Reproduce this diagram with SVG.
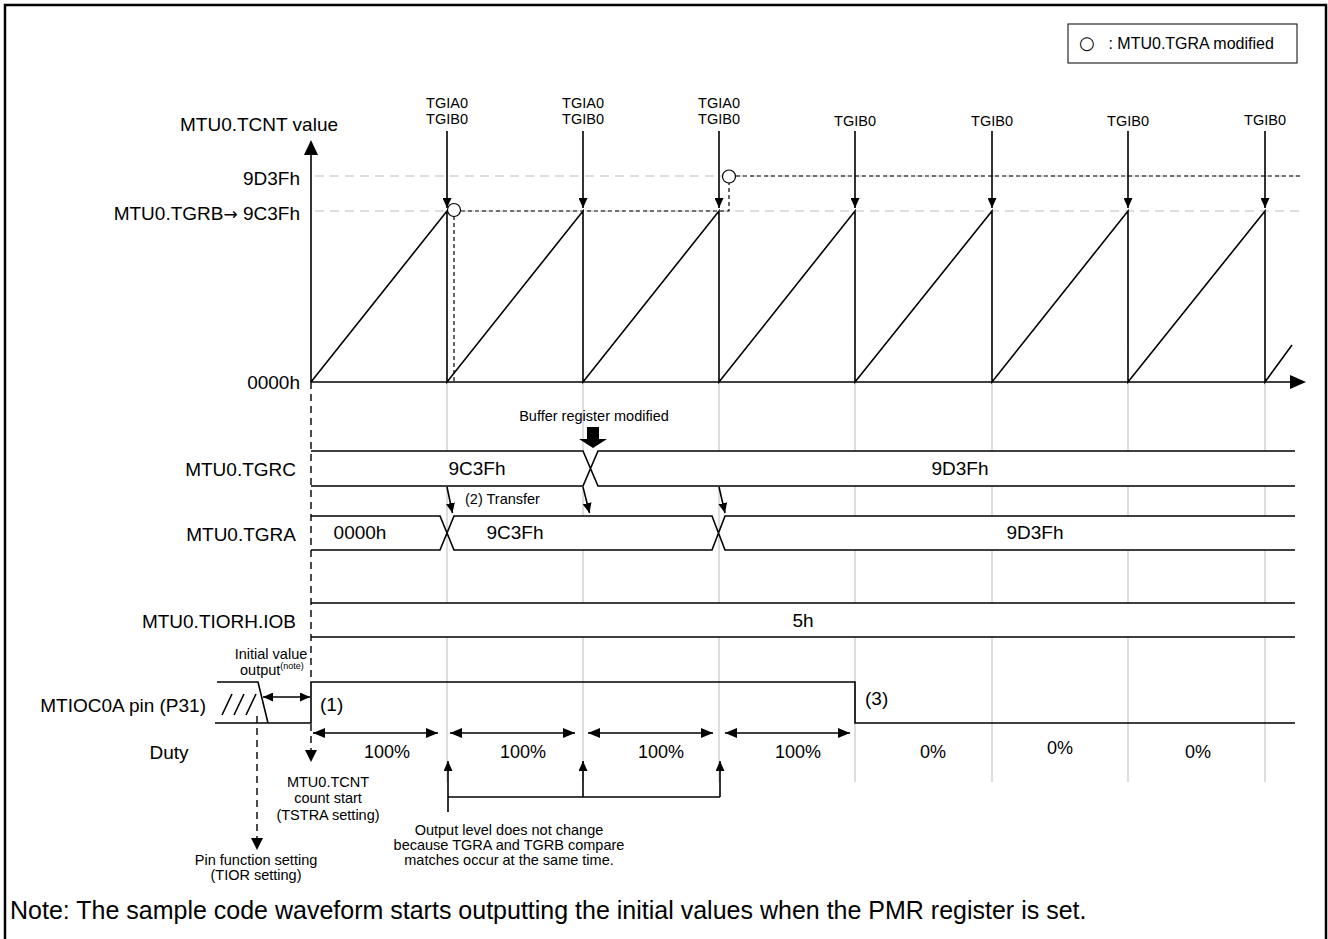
<svg xmlns="http://www.w3.org/2000/svg" width="1328" height="939" viewBox="0 0 1328 939">
<defs>
<marker id="ah" viewBox="0 0 12 10" refX="12" refY="5" markerWidth="12" markerHeight="10" markerUnits="userSpaceOnUse" orient="auto-start-reverse"><path d="M0,0 L12,5 L0,10 z" fill="#000"/></marker>
<marker id="ahs" viewBox="0 0 10 9" refX="10" refY="4.5" markerWidth="10" markerHeight="9" markerUnits="userSpaceOnUse" orient="auto-start-reverse"><path d="M0,0 L10,4.5 L0,9 z" fill="#000"/></marker>
</defs>
<style>
text{font-family:"Liberation Sans",Arial,"DejaVu Sans",sans-serif;fill:#000}
.m{font-size:19px}
.p{font-size:18px}
.s{font-size:14.5px}
.r{text-anchor:end}
.c{text-anchor:middle}
.ln{stroke:#000;stroke-width:1.6;fill:none}
.gr{stroke:#c8c8c8;stroke-width:1.2;fill:none}
.gd{stroke:#bdbdbd;stroke-width:1.2;fill:none;stroke-dasharray:9,6}
.bd{stroke:#000;stroke-width:1.2;fill:none;stroke-dasharray:4,3}
.ld{stroke:#000;stroke-width:1.4;fill:none;stroke-dasharray:7,5}
.ar{stroke:#000;stroke-width:1.6;fill:none}
</style>
<rect width="1328" height="939" fill="#fff"/>
<path d="M5,939 V5 H1326 V939" fill="none" stroke="#000" stroke-width="2.5"/>

<g id="legend">
<rect x="1068" y="24" width="229" height="39" fill="#fff" stroke="#000" stroke-width="1"/>
<text x="1079" y="49" font-size="16"><tspan font-family="DejaVu Sans" font-size="18">○</tspan><tspan x="1104"> : MTU0.TGRA modified</tspan></text>
</g>

<g id="grid">
<path class="gr" d="M447,382 V782 M583,382 V782 M719,382 V782 M855,382 V782 M992,382 V782 M1128,382 V782 M1265,382 V782"/>
<path class="gd" d="M315,176 H1300 M315,211 H1300"/>
</g>

<g id="axes">
<path class="ln" d="M311,382 V155" />
<path d="M304,155 L311,140 L318,155 z" fill="#000"/>
<path class="ln" d="M311,382 H1291" />
<path d="M1290,375 L1306,382 L1290,389 z" fill="#000"/>
<text class="m" x="180" y="131">MTU0.TCNT value</text>
<text class="m r" x="300" y="185">9D3Fh</text>
<text class="m r" x="300" y="220">MTU0.TGRB<tspan font-family="DejaVu Sans" font-size="17">→</tspan> 9C3Fh</text>
<text class="m r" x="300" y="389">0000h</text>
</g>

<g id="tcnt">
<path class="ln" d="M311,382 L447,211 V382 L583,211 V382 L719,211 V382 L855,211 V382 L992,211 V382 L1128,211 V382 L1265,211 V382 L1292,345"/>
<path class="bd" d="M461,211 H729 V183 M736,176 H1300 M454,216 V382"/>
<circle cx="454" cy="210" r="6.5" fill="#fff" stroke="#000" stroke-width="1.2"/>
<circle cx="729" cy="176.5" r="6.5" fill="#fff" stroke="#000" stroke-width="1.2"/>
</g>

<g id="interrupts">
<path class="ar" d="M447,131 V208" marker-end="url(#ahs)"/>
<path class="ar" d="M583,131 V208" marker-end="url(#ahs)"/>
<path class="ar" d="M719,131 V208" marker-end="url(#ahs)"/>
<path class="ar" d="M855,131 V208" marker-end="url(#ahs)"/>
<path class="ar" d="M992,131 V208" marker-end="url(#ahs)"/>
<path class="ar" d="M1128,131 V208" marker-end="url(#ahs)"/>
<path class="ar" d="M1265,131 V208" marker-end="url(#ahs)"/>
<text class="s c" x="447" y="108">TGIA0</text><text class="s c" x="447" y="124">TGIB0</text>
<text class="s c" x="583" y="108">TGIA0</text><text class="s c" x="583" y="124">TGIB0</text>
<text class="s c" x="719" y="108">TGIA0</text><text class="s c" x="719" y="124">TGIB0</text>
<text class="s c" x="855" y="126">TGIB0</text>
<text class="s c" x="992" y="126">TGIB0</text>
<text class="s c" x="1128" y="126">TGIB0</text>
<text class="s c" x="1265" y="125">TGIB0</text>
</g>

<g id="tgrc">
<polygon points="311,451 583,451 590.5,468.5 598,451 1295,451 1295,486 598,486 590.5,468.5 583,486 311,486" fill="#fff"/>
<path class="ln" d="M311,451 H583 L598,486 H1295 M311,486 H583 L598,451 H1295"/>
<text class="m r" x="296" y="476">MTU0.TGRC</text>
<text class="m c" x="477" y="475">9C3Fh</text>
<text class="m c" x="960" y="475">9D3Fh</text>
<text class="s c" x="594" y="421">Buffer register modified</text>
<path d="M587,427 H599 V439 H607 L593,448 L579,439 H587 z" fill="#000"/>
</g>

<g id="tgra">
<polygon points="311,516 440,516 447,533 454,516 712,516 718.5,533 725,516 1295,516 1295,550 725,550 718.5,533 712,550 454,550 447,533 440,550 311,550" fill="#fff"/>
<path class="ln" d="M311,516 H440 L454,550 H712 L725,516 H1295 M311,550 H440 L454,516 H712 L725,550 H1295"/>
<text class="m r" x="296" y="541">MTU0.TGRA</text>
<text class="m c" x="360" y="539">0000h</text>
<text class="m c" x="515" y="539">9C3Fh</text>
<text class="m c" x="1035" y="539">9D3Fh</text>
</g>

<g id="transfer">
<path class="ar" d="M447,487 L452.5,513" marker-end="url(#ahs)"/>
<path class="ar" d="M583,487 L589.5,513" marker-end="url(#ahs)"/>
<path class="ar" d="M719,487 L725,513" marker-end="url(#ahs)"/>
<text class="s" x="465" y="504">(2) Transfer</text>
</g>

<g id="tiorh">
<rect x="311" y="603" width="984" height="34" fill="#fff"/>
<path class="ln" d="M311,603 H1295 M311,637 H1295"/>
<text class="m r" x="296" y="628">MTU0.TIORH.IOB</text>
<text class="m c" x="803" y="627">5h</text>
</g>

<g id="pin">
<text class="m r" x="206" y="712">MTIOC0A pin (P31)</text>
<path class="ln" d="M217,682 H258 L268,723 M215,723 H311 V682 H855 V723 H1295"/>
<path class="ln" d="M222,715 L232,694 M234,715 L244,694 M246,715 L256,694"/>
<path class="ar" d="M263,697 H310" marker-start="url(#ahs)" marker-end="url(#ahs)"/>
<text class="s c" x="271" y="659">Initial value</text>
<text class="s" x="240" y="675">output<tspan font-size="9" dy="-6">(note)</tspan></text>
<text class="m" x="320" y="711">(1)</text>
<text class="m" x="865" y="705">(3)</text>
</g>

<g id="duty">
<text class="m c" x="169" y="759">Duty</text>
<path class="ar" d="M313,733 H438" marker-start="url(#ah)" marker-end="url(#ah)"/>
<path class="ar" d="M450,733 H575" marker-start="url(#ah)" marker-end="url(#ah)"/>
<path class="ar" d="M588,733 H713" marker-start="url(#ah)" marker-end="url(#ah)"/>
<path class="ar" d="M725,733 H850" marker-start="url(#ah)" marker-end="url(#ah)"/>
<text class="p c" x="387" y="758">100%</text>
<text class="p c" x="523" y="758">100%</text>
<text class="p c" x="661" y="758">100%</text>
<text class="p c" x="798" y="758">100%</text>
<text class="p c" x="933" y="758">0%</text>
<text class="p c" x="1060" y="754">0%</text>
<text class="p c" x="1198" y="758">0%</text>
</g>

<g id="annotations">
<path class="ld" d="M311,382 V682 M311,724 V751"/>
<path d="M305,750 L311,762 L317,750 z" fill="#000"/>
<path class="ld" d="M257,716 V839"/>
<path d="M251,838 L257,850 L263,838 z" fill="#000"/>
<text class="s c" x="328" y="787">MTU0.TCNT</text>
<text class="s c" x="328" y="803">count start</text>
<text class="s c" x="328" y="820">(TSTRA setting)</text>
<text class="s c" x="256" y="865">Pin function setting</text>
<text class="s c" x="256" y="880">(TIOR setting)</text>
<path class="ar" d="M448,812 V761" marker-end="url(#ahs)"/>
<path class="ar" d="M448,797 H720"/>
<path class="ar" d="M583,797 V761" marker-end="url(#ahs)"/>
<path class="ar" d="M720,797 V761" marker-end="url(#ahs)"/>
<text class="s c" x="509" y="835">Output level does not change</text>
<text class="s c" x="509" y="850">because TGRA and TGRB compare</text>
<text class="s c" x="509" y="865">matches occur at the same time.</text>
</g>

<text x="10" y="919" font-size="25">Note: The sample code waveform starts outputting the initial values when the PMR register is set.</text>
</svg>
